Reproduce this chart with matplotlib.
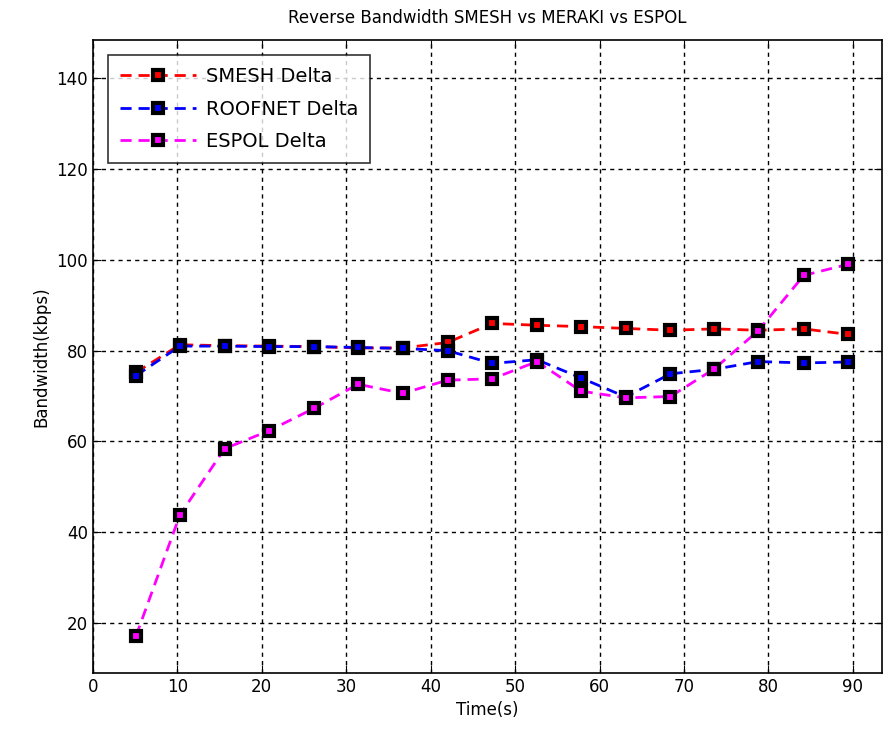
import matplotlib
matplotlib.use('Agg')
import matplotlib.pyplot as plt

# time samples (s)
time_s = [5.1, 10.3, 15.6, 20.9, 26.2, 31.4, 36.7, 42.0, 47.3,
          52.6, 57.8, 63.1, 68.4, 73.6, 78.8, 84.2, 89.4]

# bandwidth (kbps)
smesh = [75.2, 81.3, 81.1, 81.0, 80.9, 80.6, 80.6, 81.8, 86.0,
         85.6, 85.3, 84.9, 84.5, 84.8, 84.5, 84.8, 83.6]
roofnet = [74.5, 81.0, 81.0, 80.9, 80.9, 80.7, 80.5, 80.0, 77.2,
           78.0, 74.0, 69.8, 74.9, 75.9, 77.6, 77.3, 77.5]
espol = [17.1, 43.8, 58.4, 62.4, 67.3, 72.6, 70.6, 73.5, 73.8,
         77.6, 71.1, 69.6, 69.9, 76.0, 84.4, 96.6, 99.0]

series = [
    (smesh, 'red', 'SMESH Delta'),
    (roofnet, 'blue', 'ROOFNET Delta'),
    (espol, 'magenta', 'ESPOL Delta'),
]

plt.rcParams['font.family'] = 'DejaVu Sans'

fig = plt.figure(figsize=(8.85, 7.37), dpi=100)
ax = fig.add_axes([0.105, 0.087, 0.892, 0.859])

for values, color, label in series:
    ax.plot(time_s, values, color=color, linestyle=(0, (4, 2.5)), linewidth=2,
            marker='s', markersize=6.5, markerfacecolor=color,
            markeredgecolor='black', markeredgewidth=3, label=label)

ax.set_xlim(0, 93.5)
ax.set_ylim(9, 148.5)
ax.set_xticks(range(0, 91, 10))
ax.set_yticks(range(20, 141, 20))

ax.grid(True, color='black', linestyle=(0, (3, 3)), linewidth=1)
ax.tick_params(direction='in', top=True, right=True, labelsize=12, length=6)
for s in ax.spines.values():
    s.set_linewidth(1.2)

ax.set_xlabel('Time(s)', fontsize=12)
ax.set_ylabel('Bandwidth(kbps)', fontsize=12)
ax.set_title('Reverse Bandwidth SMESH vs MERAKI vs ESPOL', fontsize=12, pad=12)

leg = ax.legend(loc='upper left', fontsize=14, frameon=True, fancybox=False,
                edgecolor='black', handlelength=3.9, handletextpad=0.5,
                labelspacing=0.7, borderaxespad=0.8, borderpad=0.6)
leg.get_frame().set_linewidth(1.2)

fig.savefig('out.png', dpi=100)
